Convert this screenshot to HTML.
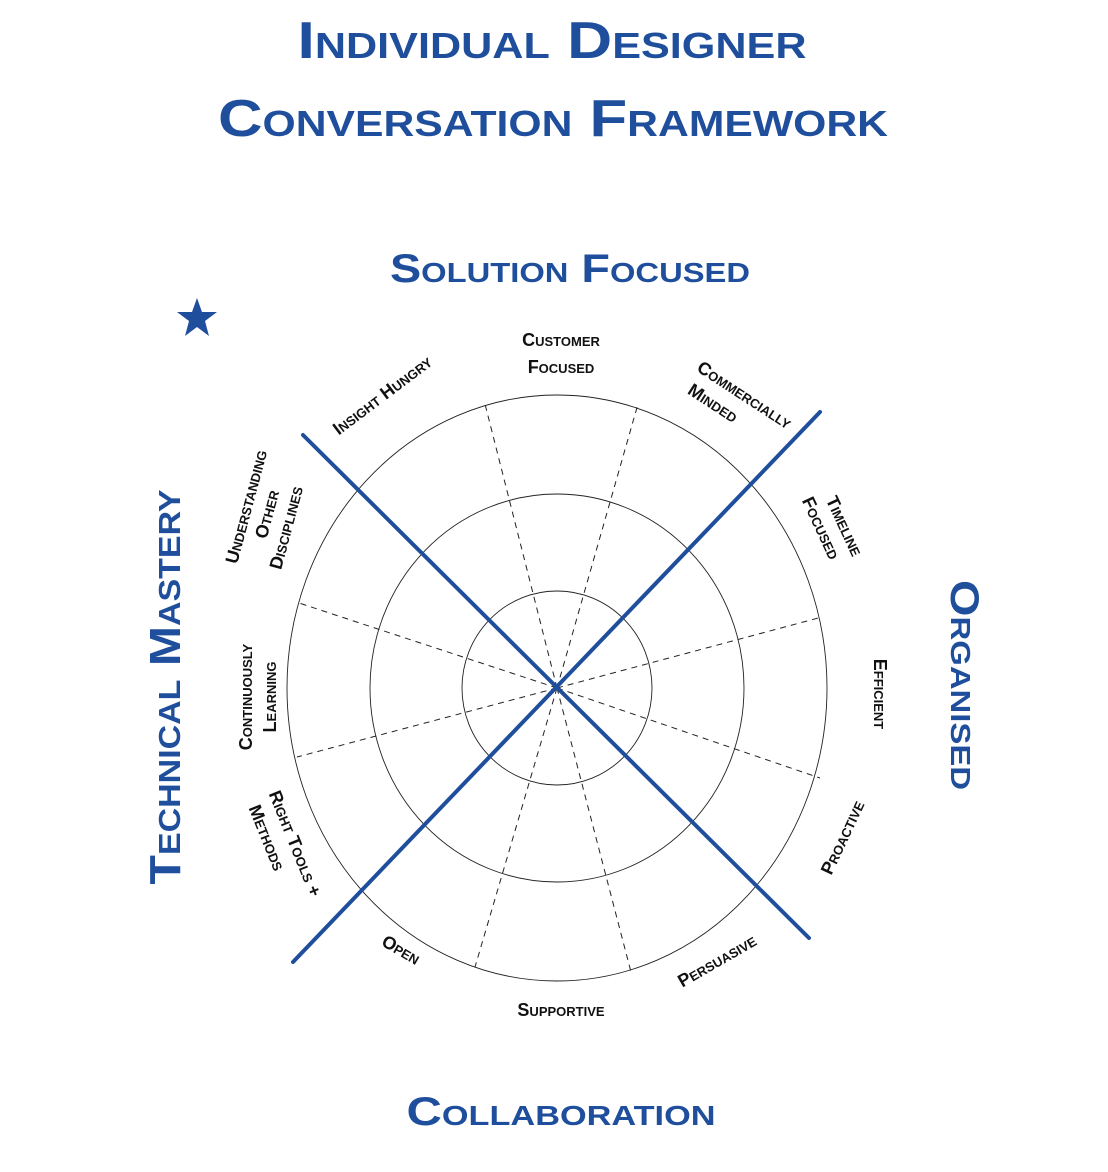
<!DOCTYPE html>
<html><head><meta charset="utf-8"><style>
html,body{margin:0;padding:0;background:#fff;}
svg{display:block;}
.t{font-family:"Liberation Sans",sans-serif;font-weight:bold;font-variant:small-caps;fill:#1f4f9c;}
.l{font-family:"Liberation Sans",sans-serif;font-weight:bold;font-variant:small-caps;fill:#111;font-size:18px;}
</style></head><body>
<svg width="1108" height="1172" viewBox="0 0 1108 1172" xmlns="http://www.w3.org/2000/svg">
<text class="t" x="552" y="58" font-size="52" text-anchor="middle" textLength="509" lengthAdjust="spacingAndGlyphs">Individual Designer</text>
<text class="t" x="553" y="136" font-size="52" text-anchor="middle" textLength="670" lengthAdjust="spacingAndGlyphs">Conversation Framework</text>
<text class="t" x="570" y="282" font-size="40" text-anchor="middle" textLength="360" lengthAdjust="spacingAndGlyphs">Solution Focused</text>
<text class="t" x="561" y="1125" font-size="40" text-anchor="middle" textLength="309" lengthAdjust="spacingAndGlyphs">Collaboration</text>
<text class="t" font-size="44" text-anchor="middle" textLength="395" lengthAdjust="spacingAndGlyphs" transform="translate(180,687) rotate(-90)">Technical Mastery</text>
<text class="t" font-size="40" text-anchor="middle" textLength="210" lengthAdjust="spacingAndGlyphs" transform="translate(951,685) rotate(90)">Organised</text>
<polygon points="197,298 202,312 217,312 205,321 209,336 197,327 185,336 189,321 177,312 192,312" fill="#1f4f9c"/>

<g fill="none" stroke="#222" stroke-width="0.9">
<ellipse cx="557" cy="688" rx="270" ry="293"/>
<ellipse cx="557" cy="688" rx="187" ry="194"/>
<ellipse cx="557" cy="688" rx="95" ry="97"/>
</g>
<g stroke="#222" stroke-width="1" stroke-dasharray="6,5">
<line x1="557" y1="688" x2="638" y2="404"/>
<line x1="557" y1="688" x2="485" y2="404"/>
<line x1="557" y1="688" x2="822" y2="617"/>
<line x1="557" y1="688" x2="820" y2="778"/>
<line x1="557" y1="688" x2="299" y2="603"/>
<line x1="557" y1="688" x2="297" y2="757"/>
<line x1="557" y1="688" x2="475" y2="967"/>
<line x1="557" y1="688" x2="631" y2="972"/>
</g>
<g stroke="#1f4f9c" stroke-width="4" stroke-linecap="round">
<line x1="303" y1="435" x2="809" y2="938"/>
<line x1="293" y1="962" x2="820" y2="412"/>
</g>

<text class="l" x="561" y="346" text-anchor="middle">Customer</text>
<text class="l" x="561" y="373" text-anchor="middle">Focused</text>
<text class="l" text-anchor="middle" transform="translate(386,400) rotate(-37)">Insight Hungry</text>
<g transform="translate(738,405) rotate(33)">
<text class="l" x="0" y="-6" text-anchor="middle">Commercially</text>
<text class="l" x="-22" y="18" text-anchor="middle">Minded</text>
</g>
<g transform="translate(832,523) rotate(65)">
<text class="l" x="8" y="-4" text-anchor="middle">Timeline</text>
<text class="l" x="0" y="18" text-anchor="middle">Focused</text>
</g>
<text class="l" text-anchor="middle" transform="translate(874,694) rotate(90)">Efficient</text>
<text class="l" text-anchor="middle" transform="translate(848,840) rotate(-65)">Proactive</text>
<text class="l" text-anchor="middle" transform="translate(720,966) rotate(-30)">Persuasive</text>
<text class="l" x="561" y="1016" text-anchor="middle">Supportive</text>
<text class="l" text-anchor="middle" transform="translate(398,955) rotate(30)">Open</text>
<g transform="translate(284,848) rotate(68)">
<text class="l" x="0" y="-6" text-anchor="middle">Right Tools +</text>
<text class="l" x="-16" y="18" text-anchor="middle">Methods</text>
</g>
<g transform="translate(258,697) rotate(-90)">
<text class="l" x="0" y="-6" text-anchor="middle">Continuously</text>
<text class="l" x="0" y="18" text-anchor="middle">Learning</text>
</g>
<g transform="translate(265,522) rotate(-75)">
<text class="l" x="10" y="-16" text-anchor="middle">Understanding</text>
<text class="l" x="8" y="6" text-anchor="middle">Other</text>
<text class="l" x="0" y="28" text-anchor="middle">Disciplines</text>
</g>
</svg>
</body></html>
